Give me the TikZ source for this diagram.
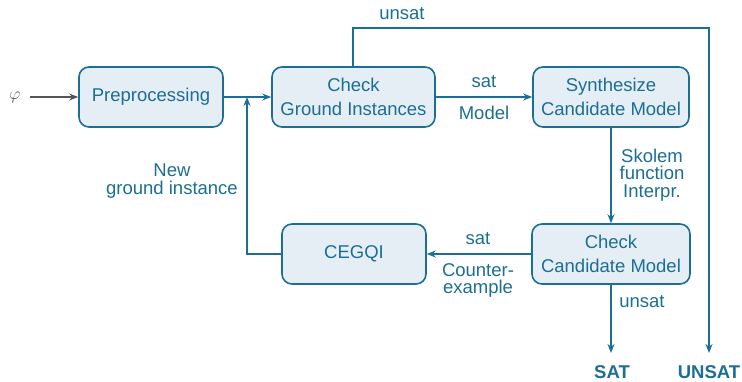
\documentclass[tikz,border=0pt]{standalone}
\usepackage{fontspec}
\setmainfont{Liberation Sans}
\usetikzlibrary{arrows.meta,positioning}
\definecolor{flowblue}{RGB}{27,110,148}
\definecolor{flowfill}{RGB}{229,238,245}
\definecolor{flowgray}{RGB}{85,85,85}
\tikzset{
  procbox/.style={draw=flowblue, fill=flowfill, line width=1.6pt, rounded corners=10pt,
    text=flowblue, align=center, font=\fontsize{18.5}{24}\selectfont, inner sep=0pt},
  flow/.style={draw=flowblue, line width=1.6pt, -{Stealth[length=9pt,width=7pt]}},
  lbl/.style={text=flowblue, align=center, font=\fontsize{18.5}{17.5}\selectfont, inner sep=0pt},
  result/.style={text=flowblue, font=\fontsize{18.5}{22}\selectfont\bfseries, inner sep=0pt}
}
\begin{document}
\begin{tikzpicture}[x=1pt,y=-1pt]
\useasboundingbox (0,0) rectangle (742,382);
\node[procbox, minimum width=144pt, minimum height=60pt] (pre) at (151,97) {Preprocessing};
\node[procbox, minimum width=163pt, minimum height=60pt] (cgi) at (353.5,97) {Check\\Ground Instances};
\node[procbox, minimum width=156pt, minimum height=60pt] (syn) at (611,97) {Synthesize\\Candidate Model};
\node[procbox, minimum width=158pt, minimum height=60pt] (ccm) at (611,254) {Check\\Candidate Model};
\node[procbox, minimum width=144pt, minimum height=60pt] (ceg) at (354,254) {CEGQI};

\node[text=flowgray, inner sep=0pt, font=\fontsize{18.5}{22}\selectfont] (phi) at (15,97) {$\varphi$};
\node[result] (sat) at (612,372) {SAT};
\node[result] (unsat) at (709,372) {UNSAT};

\coordinate (merge) at (247,97);
\coordinate (fbcorner) at (247,254);
\coordinate (utop1) at (353,28);
\coordinate (utop2) at (709,28);
\coordinate (uend) at (709,353);
\coordinate (send) at (611,353);

\draw[flow, draw=flowgray] (30,97) -- (pre.west);
\draw[flow] (pre.east) -- (cgi.west);
\draw[flow] (ceg.west) -- (fbcorner) -- (merge);
\draw[flow] (cgi.north -| utop1) -- (utop1) -- (utop2) -- (uend);
\draw[flow] (cgi.east) -- (syn.west);
\draw[flow] (syn.south) -- (ccm.north);
\draw[flow] (ccm.south) -- (send);
\draw[flow] (ccm.west) -- (ceg.east);

\node[lbl] (l1) at (402,14) {unsat};
\node[lbl] (l2) at (484,82) {sat};
\node[lbl] (l3) at (484,113) {Model};
\node[lbl] (l4) at (652,175) {Skolem\\function\\Interpr.};
\node[lbl] (l5) at (642,302) {unsat};
\node[lbl] (l6) at (478,239) {sat};
\node[lbl] (l7) at (478,280.5) {Counter-\\example};
\node[lbl] (l8) at (172,181) {New\\ground instance};
\end{tikzpicture}
\end{document}
